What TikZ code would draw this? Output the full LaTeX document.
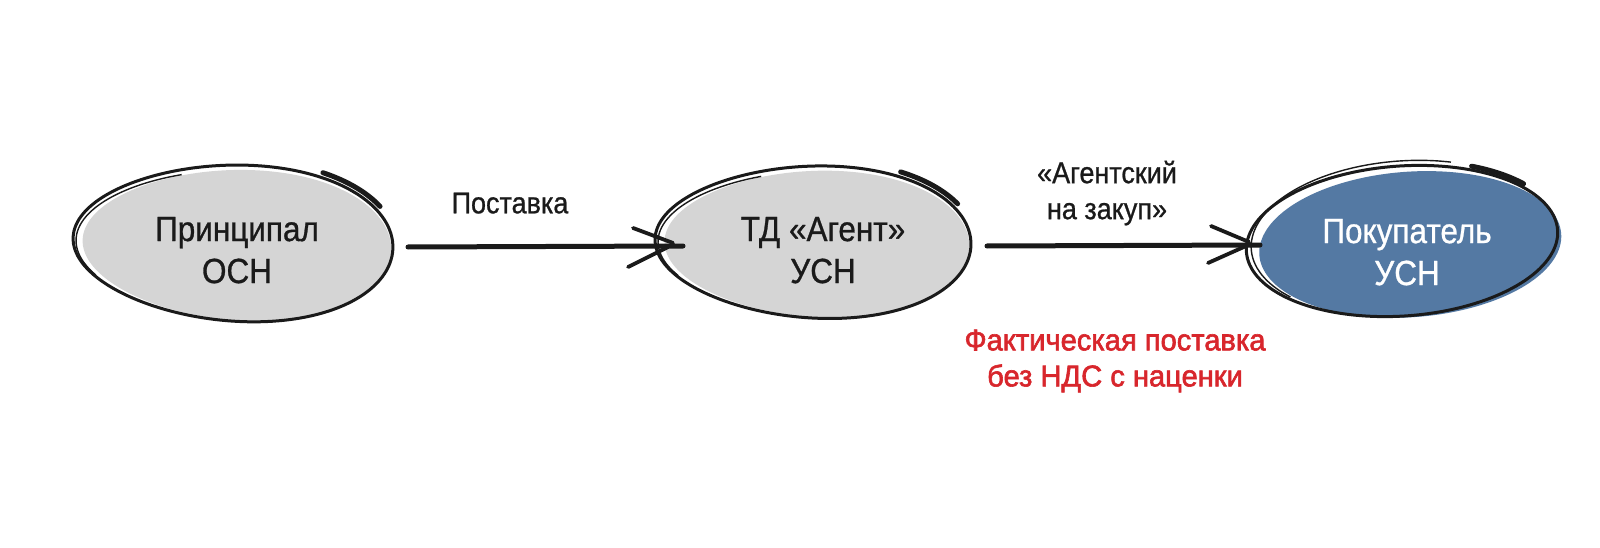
\documentclass[tikz,border=0pt]{standalone}
\usepackage{fontspec}
\setmainfont[FakeStretch=0.9,FakeBold=0.8]{Liberation Sans}
\newfontfamily\redfont[FakeStretch=0.97,FakeBold=2]{Liberation Sans}
\definecolor{blobgray}{HTML}{D5D5D5}
\definecolor{blobblue}{HTML}{5479A3}
\definecolor{ink}{HTML}{1A1A1A}
\definecolor{redtxt}{HTML}{D8262C}
\begin{document}
\begin{tikzpicture}[x=1pt,y=-1pt,
  outline/.style={draw=ink,line width=3pt},
  thinline/.style={draw=ink,line width=1.4pt},
  extra/.style={draw=ink,line width=5pt,line cap=round},
  conn/.style={draw=ink,line width=5pt,line cap=round},
  barb/.style={draw=ink,line width=3.8pt,line cap=round},
  nodetext/.style={align=center,font=\fontsize{35}{42}\selectfont,text=ink,inner sep=0pt,text depth=0pt},
  labeltext/.style={align=center,font=\fontsize{30}{36}\selectfont,text=ink,inner sep=0pt,text depth=0pt},
  redlabel/.style={align=center,font=\redfont\fontsize{30}{36}\selectfont,text=redtxt,inner sep=0pt,text depth=0pt}]
\useasboundingbox[fill=white] (0,0) rectangle (1600,548);

% Blob 1
\begin{scope}[shift={(233,243)},rotate=-2]
  \fill[blobgray,shift={(4,2)},scale=0.965] plot[domain=0:355,samples=72,smooth cycle,variable=\t] ({160*cos(\t)},{78*sin(\t)*(1+0.08*cos(\t))});
  \path[outline] plot[domain=0:355,samples=72,smooth cycle,variable=\t] ({160*cos(\t)},{78*sin(\t)*(1+0.08*cos(\t))});
  \path[thinline] plot[domain=150:250,samples=20,smooth,variable=\t] ({157*cos(\t)},{75*sin(\t)*(1+0.08*cos(\t))+2});
  \path[extra] plot[domain=-58:-28,samples=12,smooth,variable=\t] ({165*cos(\t)},{83*sin(\t)*(1+0.08*cos(\t))});
\end{scope}

% Blob 2
\begin{scope}[shift={(813,242)},rotate=-1]
  \fill[blobgray,shift={(4,2)},scale=0.965] plot[domain=0:355,samples=72,smooth cycle,variable=\t] ({158*cos(\t)},{76*sin(\t)*(1+0.08*cos(\t))});
  \path[outline] plot[domain=0:355,samples=72,smooth cycle,variable=\t] ({158*cos(\t)},{76*sin(\t)*(1+0.08*cos(\t))});
  \path[thinline] plot[domain=150:250,samples=20,smooth,variable=\t] ({155*cos(\t)},{73*sin(\t)*(1+0.08*cos(\t))+2});
  \path[extra] plot[domain=-58:-28,samples=12,smooth,variable=\t] ({163*cos(\t)},{81*sin(\t)*(1+0.08*cos(\t))});
\end{scope}

% Blob 3
\begin{scope}[shift={(1402,241)},rotate=4]
  \fill[blobblue,shift={(8,4)},scale=0.97] plot[domain=0:355,samples=72,smooth cycle,variable=\t] ({156*cos(\t)},{75*sin(\t)});
  \path[outline] plot[domain=0:355,samples=72,smooth cycle,variable=\t] ({156*cos(\t)},{75*sin(\t)});
  \path[thinline] plot[domain=140:290,samples=30,smooth,variable=\t] ({153*cos(\t)+2},{78*sin(\t)-2});
  \path[extra] plot[domain=-62:-38,samples=10,smooth,variable=\t] ({159*cos(\t)},{79*sin(\t)});
\end{scope}

% Texts in blobs
\node[nodetext] (princ) at (237,250) {Принципал\\ОСН};
\node[nodetext] (agent) at (823,250) {ТД «Агент»\\УСН};
\node[nodetext,text=white] (buyer) at (1407,252) {Покупатель\\УСН};

% Connector 1
\coordinate (a1s) at (408,247);
\coordinate (a1e) at (683,246);
\path[conn] (a1s) -- (a1e);
\path[barb] (a1e) ++(-50,-18) -- ++(40,15);
\path[barb] (a1e) ++(-55,21) -- ++(40,-20);
\node[labeltext] (l1) at (510,203) {Поставка};

% Connector 2
\coordinate (a2s) at (987,246);
\coordinate (a2e) at (1260,245);
\path[conn] (a2s) -- (a2e);
\path[barb] (a2e) ++(-49,-19) -- ++(38,16);
\path[barb] (a2e) ++(-52,18) -- ++(38,-17);
\node[labeltext] (l2) at (1107,190) {«Агентский\\на закуп»};
\node[redlabel] (l3) at (1115,358) {Фактическая поставка\\без НДС с наценки};
\end{tikzpicture}
\end{document}
